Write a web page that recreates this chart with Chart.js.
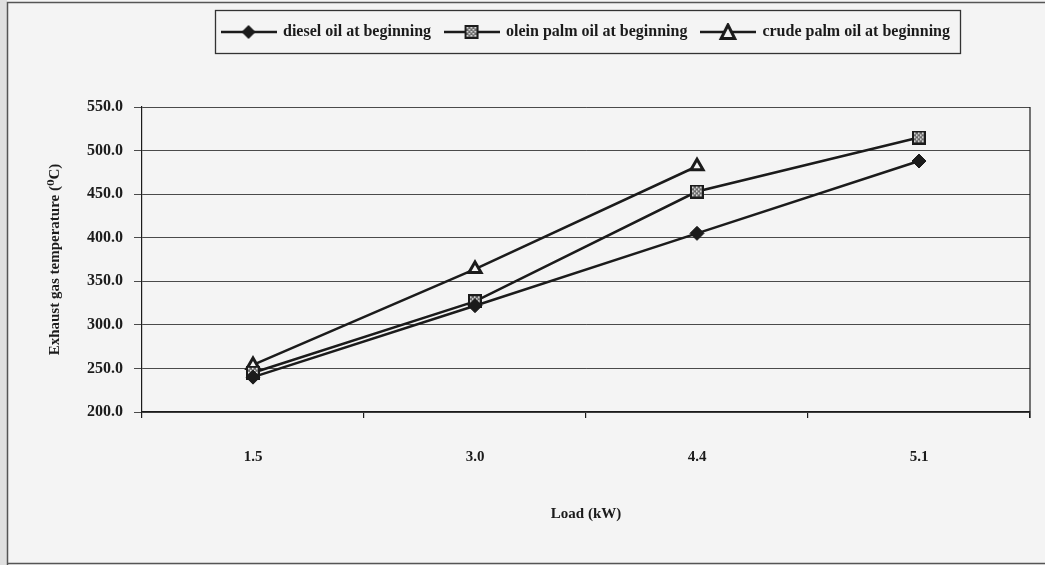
<!DOCTYPE html>
<html>
<head>
<meta charset="utf-8">
<script src="https://cdn.jsdelivr.net/npm/chart.js@4/dist/chart.umd.min.js"></script>
<style>
html,body{margin:0;padding:0;background:#f4f4f4;}
canvas{display:block;}
</style>
</head>
<body>
<canvas id="c" width="1045" height="565"></canvas>
<script>
// ---- data ----
const categories = ['1.5', '3.0', '4.4', '5.1'];
const dieselValues = [240, 322, 405, 488];
const oleinValues  = [245, 327, 453, 515];
const crudeValues  = [254, 364, 482, null];
const seriesNames = ['diesel oil at beginning', 'olein palm oil at beginning', 'crude palm oil at beginning'];
const yMin = 200, yMax = 550, yStep = 50;
const xTitle = 'Load (kW)';
const yTitle = 'Exhaust gas temperature (\u2070C)';

// ---- styles ----
const INK = '#1b1b1b';
const FONT = "'Liberation Serif', 'DejaVu Serif', serif";
Chart.defaults.font.family = FONT;
Chart.defaults.color = INK;

function drawDiamond(ctx, cx, cy, r) {
  ctx.beginPath();
  ctx.moveTo(cx, cy - r); ctx.lineTo(cx + r, cy); ctx.lineTo(cx, cy + r); ctx.lineTo(cx - r, cy);
  ctx.closePath(); ctx.fillStyle = INK; ctx.fill();
}
function drawChecker(ctx, x, y, s) {
  ctx.fillStyle = INK; ctx.fillRect(x, y, s, s);
  ctx.fillStyle = '#6a6a6a'; ctx.fillRect(x + 2, y + 2, s - 4, s - 4);
  ctx.fillStyle = '#f2f2f2';
  for (let i = 0; i < s - 4; i += 2) {
    for (let j = 0; j < s - 4; j += 2) {
      if (((i + j) / 2) % 2 === 0) ctx.fillRect(x + 2 + i, y + 2 + j, 1.5, 1.5);
    }
  }
}
function drawTriangle(ctx, cx, cy, r) {
  ctx.beginPath();
  ctx.moveTo(cx, cy - r); ctx.lineTo(cx + r * 0.85, cy + r * 0.7); ctx.lineTo(cx - r * 0.85, cy + r * 0.7);
  ctx.closePath(); ctx.fillStyle = '#f4f4f4'; ctx.fill();
  ctx.lineWidth = 3; ctx.lineJoin = 'miter'; ctx.strokeStyle = INK; ctx.stroke();
}
function makeCanvas(w, h, fn) {
  const c = document.createElement('canvas'); c.width = w; c.height = h;
  fn(c.getContext('2d')); return c;
}
const oleinPoint = makeCanvas(14, 14, ctx => drawChecker(ctx, 0, 0, 14));
const markerFns = [
  (ctx, cx, cy) => drawDiamond(ctx, cx, cy, 7),
  (ctx, cx, cy) => drawChecker(ctx, cx - 7, cy - 7, 14),
  (ctx, cx, cy) => drawTriangle(ctx, cx, cy + 1, 8)
];
const legendIcons = markerFns.map(fn => makeCanvas(56, 18, ctx => {
  ctx.strokeStyle = INK; ctx.lineWidth = 2.5;
  ctx.beginPath(); ctx.moveTo(0, 9); ctx.lineTo(56, 9); ctx.stroke();
  fn(ctx, 28, 9);
}));

const framePlugin = {
  id: 'frame',
  beforeUpdate(chart) {
    const lg = chart.legend;
    if (lg && !lg._spaced) {
      const f = lg.fit;
      lg.fit = function () { f.call(this); this.height += 57; };
      lg._spaced = true;
    }
  },
  beforeDraw(chart) {
    const ctx = chart.ctx, W = chart.width, H = chart.height;
    ctx.save();
    ctx.fillStyle = '#f4f4f4'; ctx.fillRect(0, 0, W, H);
    ctx.fillStyle = '#e0e0e0'; ctx.fillRect(0, 0, 7, H);
    ctx.strokeStyle = '#555'; ctx.lineWidth = 1.5;
    ctx.beginPath();
    ctx.moveTo(7.5, H); ctx.lineTo(7.5, 2.5); ctx.lineTo(W, 2.5);
    ctx.moveTo(7.5, H - 1.5); ctx.lineTo(W, H - 1.5);
    ctx.stroke();
    ctx.restore();
  },
  afterDraw(chart) {
    const ctx = chart.ctx, a = chart.chartArea;
    ctx.save();
    ctx.strokeStyle = INK; ctx.lineWidth = 1.2;
    ctx.beginPath(); ctx.moveTo(a.right, a.top); ctx.lineTo(a.right, a.bottom + 6); ctx.stroke();
    const hb = chart.legend.legendHitBoxes;
    if (hb && hb.length) {
      const last = hb[hb.length - 1];
      const l = hb[0].left - 7, r = last.left + last.width + 10;
      const t = hb[0].top - 14, b = hb[0].top + hb[0].height + 13;
      ctx.strokeStyle = '#333'; ctx.lineWidth = 1.3;
      ctx.strokeRect(Math.round(l) + 0.5, Math.round(t) + 0.5, Math.round(r - l), Math.round(b - t));
    }
    ctx.restore();
  }
};

const lineCommon = { borderColor: INK, borderWidth: 2.5, tension: 0, pointBorderColor: INK };

new Chart(document.getElementById('c'), {
  type: 'line',
  data: {
    labels: categories,
    datasets: [
      Object.assign({ label: seriesNames[0], data: dieselValues, pointStyle: 'rectRot', pointRadius: 7, pointBackgroundColor: INK, pointBorderWidth: 1 }, lineCommon),
      Object.assign({ label: seriesNames[1], data: oleinValues, pointStyle: oleinPoint, pointRadius: 7 }, lineCommon),
      Object.assign({ label: seriesNames[2], data: crudeValues, pointStyle: 'triangle', pointRadius: 7, pointBackgroundColor: '#f4f4f4', pointBorderWidth: 3 }, lineCommon)
    ]
  },
  options: {
    responsive: false,
    animation: false,
    layout: { padding: { top: 10, left: 10, right: 15, bottom: 10 } },
    plugins: {
      tooltip: { enabled: false },
      legend: {
        position: 'top',
        fullSize: false,
        labels: {
          usePointStyle: true,
          pointStyleWidth: 53,
          padding: 14,
          color: INK,
          font: { family: FONT, size: 16, weight: 'bold' },
          generateLabels(chart) {
            const items = Chart.defaults.plugins.legend.labels.generateLabels(chart);
            items.forEach((it, i) => { it.pointStyle = legendIcons[i]; });
            return items;
          }
        }
      }
    },
    scales: {
      x: {
        type: 'category',
        offset: true,
        grid: { display: true, drawOnChartArea: false, drawTicks: true, tickLength: 6, offset: true, color: INK, lineWidth: 1.2 },
        border: { display: true, color: INK, width: 1.2 },
        ticks: { padding: 30, color: INK, maxRotation: 0, font: { family: FONT, size: 15, weight: 'bold' } },
        title: { display: true, text: xTitle, color: INK, font: { family: FONT, size: 15, weight: 'bold' }, padding: { top: 9, bottom: 32 } }
      },
      y: {
        min: yMin, max: yMax,
        grid: { color: '#4a4a4a', lineWidth: 1, drawTicks: true, tickLength: 8 },
        border: { display: true, color: INK, width: 1.2 },
        ticks: { stepSize: yStep, padding: 11, color: INK, callback: v => Number(v).toFixed(1), font: { family: FONT, size: 16, weight: 'bold' } },
        title: { display: true, text: yTitle, color: INK, font: { family: FONT, size: 15, weight: 'bold' }, padding: { top: 36, bottom: 12 } }
      }
    }
  },
  plugins: [framePlugin]
});
</script>
</body>
</html>
